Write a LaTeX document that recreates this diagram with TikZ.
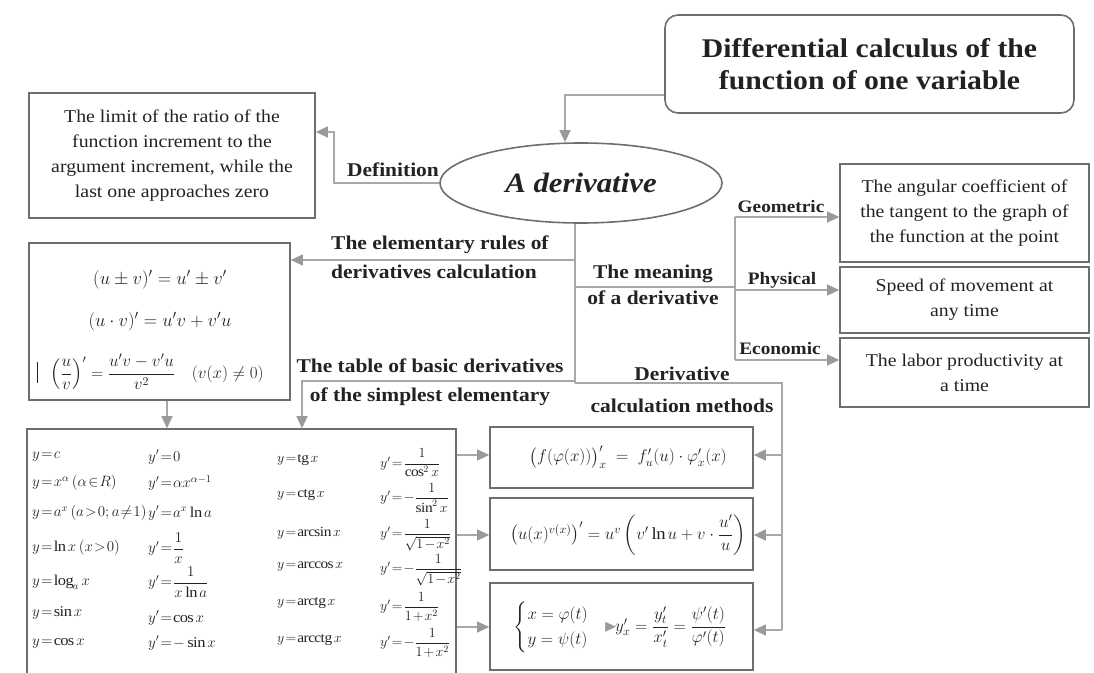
\documentclass[tikz,border=0pt]{standalone}
\usepackage{fix-cm}
\usepackage{amsmath,amssymb}
\usepackage{fontspec}
\setmainfont{Liberation Serif}[FakeStretch=1.1]
\usetikzlibrary{arrows.meta,shapes.geometric}
\definecolor{boxgray}{HTML}{6E6E6E}
\definecolor{linegray}{HTML}{A8A8A8}
\definecolor{arrgray}{HTML}{9A9A9A}
\definecolor{txt}{HTML}{222222}
\newcommand\tightmath{\thickmuskip=1.5mu\relax\medmuskip=1.5mu\relax}
\tikzset{
  box/.style={draw=boxgray, line width=1.6pt, align=center, text=txt, inner sep=0pt,
    font=\fontsize{18}{25}\selectfont},
  lbl/.style={text=txt, align=center, inner sep=0pt, font=\bfseries\fontsize{19.5}{29}\selectfont},
  sublbl/.style={text=txt, inner sep=0pt, font=\bfseries\fontsize{17.5}{20}\selectfont},
  conn/.style={draw=linegray, line width=1.1pt},
  arr/.style={conn, -{Triangle[length=12pt,width=11pt,color=arrgray]}},
  fm/.style={text=txt, inner sep=0pt, font=\fontsize{18.5}{22}\selectfont},
  tb/.style={text=txt, inner sep=0pt, anchor=west, font=\fontsize{15}{17}\selectfont\tightmath},
  tbs/.style={text=txt, inner sep=0pt, anchor=west, font=\fontsize{14}{16}\selectfont\tightmath},
  fb/.style={text=txt, inner sep=0pt, font=\fontsize{17}{21}\selectfont},
}
\begin{document}
\begin{tikzpicture}[x=1pt,y=-1pt]
\useasboundingbox (0,0) rectangle (1094,672);

% boxes
\node[box, rounded corners=13pt, minimum width=409pt, minimum height=98pt,
  font=\bfseries\fontsize{27}{32}\selectfont] (title) at (869.5,64)
  {Differential calculus of the\\function of one variable};
\node[draw=boxgray, line width=1.6pt, ellipse, minimum width=282pt, minimum height=80pt,
  inner sep=0pt, text=txt, font=\bfseries\itshape\fontsize{28}{32}\selectfont] (ell) at (581,183) {A derivative};
\node[box, minimum width=286pt, minimum height=125pt] (def) at (172,155.5)
  {The limit of the ratio of the\\function increment to the\\argument increment, while the\\last one approaches zero};
\node[box, minimum width=249pt, minimum height=98pt] (geo) at (964.5,213)
  {The angular coefficient of\\the tangent to the graph of\\the function at the point};
\node[box, minimum width=249pt, minimum height=66pt] (phys) at (964.5,300)
  {Speed of movement at\\any time};
\node[box, minimum width=249pt, minimum height=69pt] (econ) at (964.5,372.5)
  {The labor productivity at\\a time};
\node[box, minimum width=261pt, minimum height=157pt] (rules) at (159.5,321.5) {};
\node[box, minimum width=429pt, minimum height=251pt] (table) at (241.5,554.5) {};
\node[box, minimum width=263pt, minimum height=61pt] (f1) at (621.5,457.5) {};
\node[box, minimum width=263pt, minimum height=72pt] (f2) at (621.5,534) {};
\node[box, minimum width=263pt, minimum height=87pt] (f3) at (621.5,626.5) {};

% rules formulas
\node[fm] (r1) at (160,280) {$(u\pm v)' = u'\pm v'$};
\node[fm] (r2) at (160,322) {$(u\cdot v)' =u'v + v'u$};
\node[fm, font=\fontsize{17}{20}\selectfont] (r3) at (157,372) {$\left(\dfrac{u}{v}\right)' = \dfrac{u'v-v'u}{v^{2}}\quad (v(x)\neq 0)$};
\draw[txt, line width=1pt] (37,362) -- (37,383);

% table
\node[tb] (a1) at (32,457) {$y=c$};
\node[tb] (a2) at (32,483) {$y=x^{\alpha}\,(\alpha\in R)$};
\node[tb] (a3) at (32,513) {$y=a^{x}\,(a>0;a\neq 1)$};
\node[tb] (a4) at (32,548) {$y=\ln x\,(x>0)$};
\node[tb] (a5) at (32,582) {$y=\log_{a}x$};
\node[tb] (a6) at (32,613) {$y=\sin x$};
\node[tb] (a7) at (32,643) {$y=\cos x$};
\node[tb] (b1) at (148,457) {$y'=0$};
\node[tb] (b2) at (148,483) {$y'=\alpha x^{\alpha-1}$};
\node[tb] (b3) at (148,513) {$y'=a^{x}\ln a$};
\node[tb] (b4) at (148,548) {$y'=\dfrac{1}{x}$};
\node[tb] (b5) at (148,582) {$y'=\dfrac{1}{x\ln a}$};
\node[tb] (b6) at (148,618) {$y'=\cos x$};
\node[tb] (b7) at (148,643) {$y'=-\sin x$};
\node[tbs] (c1t) at (277,460) {$y=\mathrm{tg}\,x$};
\node[tbs] (c2t) at (277,495) {$y=\mathrm{ctg}\,x$};
\node[tbs] (c3t) at (277,533) {$y=\arcsin x$};
\node[tbs] (c4t) at (277,567) {$y=\arccos x$};
\node[tbs] (c5t) at (277,603) {$y=\mathrm{arctg}\,x$};
\node[tbs] (c6t) at (277,640) {$y=\mathrm{arcctg}\,x$};
\node[tbs] (d1) at (380,463) {$y'=\dfrac{1}{\cos^{2}x}$};
\node[tbs] (d2) at (380,498) {$y'=-\dfrac{1}{\sin^{2}x}$};
\node[tbs] (d3) at (380,535) {$y'=\dfrac{1}{\sqrt{1-x^{2}}}$};
\node[tbs] (d4) at (380,570) {$y'=-\dfrac{1}{\sqrt{1-x^{2}}}$};
\node[tbs] (d5) at (380,607) {$y'=\dfrac{1}{1+x^{2}}$};
\node[tbs] (d6) at (380,643) {$y'=-\dfrac{1}{1+x^{2}}$};

% formula boxes
\node[fb] (m1) at (628,457) {$\bigl(f(\varphi(x))\bigr)'_{x} \;=\; f'_{u}(u)\cdot\varphi'_{x}(x)$};
\node[fb] (m2) at (628,535) {$\left(u(x)^{v(x)}\right)' = u^{v}\left(v'\ln u + v\cdot\dfrac{u'}{u}\right)$};
\node[fb] (m3) at (620,627) {$\begin{cases}x=\varphi(t)\\ y=\psi(t)\end{cases}$\hspace{-2pt}{\color{arrgray}$\blacktriangleright$}\hspace{-2pt}$y'_{x}=\dfrac{y'_{t}}{x'_{t}}=\dfrac{\psi'(t)}{\varphi'(t)}$};

% labels
\node[lbl] (ldef) at (393,170) {Definition};
\node[lbl, anchor=west, align=left] (lrules) at (331,257.5) {The elementary rules of\\derivatives calculation};
\node[lbl] (ltable) at (430,382.5) {The table of basic derivatives\\of the simplest elementary};
\node[lbl, font=\bfseries\fontsize{19.5}{26}\selectfont] (lmean) at (653,285) {The meaning\\of a derivative};
\node[lbl, font=\bfseries\fontsize{19.5}{32}\selectfont] (lmeth) at (682,390) {Derivative\\calculation methods};
\node[sublbl] (lgeo) at (781,207) {Geometric};
\node[sublbl] (lphys) at (782,280) {Physical};
\node[sublbl] (lecon) at (780,349) {Economic};

% connectors
\draw[arr] ([yshift=-31pt]title.west) -| ([xshift=-16pt]ell.north);
\coordinate (jdef) at (334,183);
\draw[arr] (ell.west) -- (jdef) |- ([yshift=23.5pt]def.east);
\coordinate (tr0) at ([xshift=-6pt]ell.south);
\coordinate (tr1) at (575,383);
\draw[conn] (tr0) -- (tr1);
\coordinate (jr) at (575,260);
\draw[arr] (jr) -- (rules.east |- jr);
\coordinate (jm) at (575,287);
\coordinate (jm2) at (735,287);
\draw[conn] (jm) -- (jm2);
\coordinate (g0) at (735,217);
\coordinate (p0) at (735,290);
\coordinate (e0) at (735,360);
\draw[conn] (g0) -- (e0);
\draw[arr] (g0) -- (geo.west |- g0);
\draw[arr] (p0) -- (phys.west |- p0);
\draw[arr] (e0) -- (econ.west |- e0);
\coordinate (jt) at (575,381);
\coordinate (jt2) at (302,381);
\draw[arr] (jt) -- (jt2) -- (jt2 |- table.north);
\draw[arr] ([xshift=7.5pt]rules.south) -- ([xshift=7.5pt]rules.south |- table.north);
\coordinate (jc2) at (782,383);
\coordinate (c1) at (782,455);
\coordinate (c2) at (782,535);
\coordinate (c3) at (782,630);
\draw[conn] (tr1) -- (jc2) -- (c3);
\draw[arr] (c1) -- (f1.east |- c1);
\draw[arr] (c2) -- (f2.east |- c2);
\draw[arr] (c3) -- (f3.east |- c3);
\draw[arr] (table.east |- c1) -- (f1.west |- c1);
\draw[arr] (table.east |- c2) -- (f2.west |- c2);
\draw[arr] (table.east |- 0,627) -- (f3.west |- 0,627);
\end{tikzpicture}
\end{document}
